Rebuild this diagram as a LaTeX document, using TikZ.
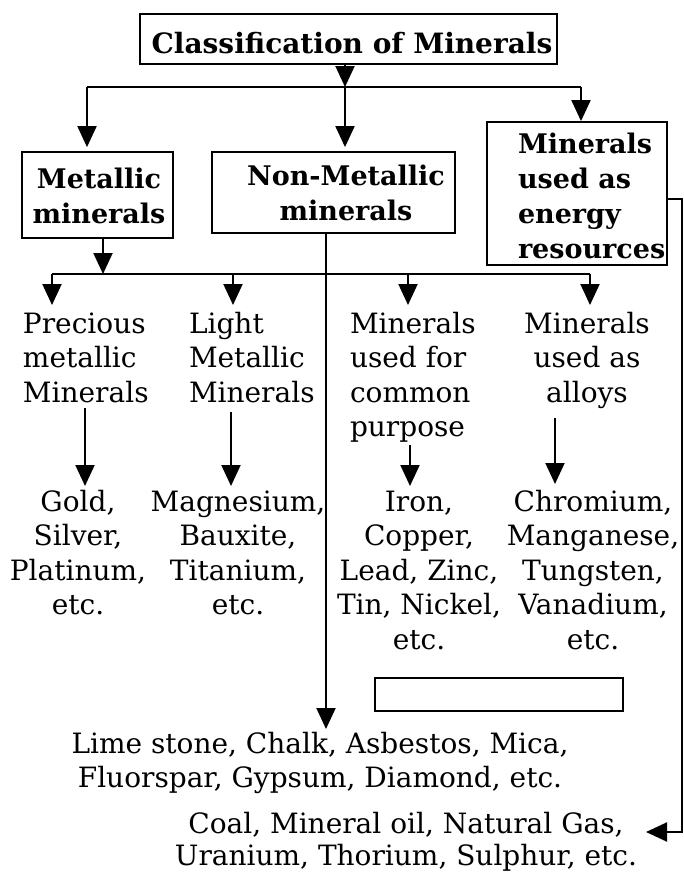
\documentclass[tikz,border=0pt]{standalone}
\usepackage{fontspec}
\setmainfont{DejaVu Serif}
\usetikzlibrary{arrows.meta,calc}
\newcommand{\mytab}[2][c]{\begin{tabular}[t]{@{}#1@{}}#2\end{tabular}}
\begin{document}
\begin{tikzpicture}[x=1pt,y=-1pt,line width=2pt,
  arr/.style={-{Triangle[length=21pt,width=19pt]}},
  boxst/.style={draw,line width=1.8pt,inner sep=0pt},
  bodyf/.style={font=\fontsize{28}{34.5}\selectfont,inner sep=0pt},
  boldf/.style={font=\bfseries\fontsize{27}{35}\selectfont,inner sep=0pt}]
\useasboundingbox (0,0) rectangle (684,873);
\fill[white] (0,0) rectangle (684,873);
% boxes
\node[boxst,minimum width=417pt,minimum height=50pt] (title) at (348.5,39) {};
\node[boldf,font=\bfseries\fontsize{28}{35}\selectfont,anchor=base] (titletxt) at (352,53) {Classification of Minerals};
\node[boxst,minimum width=151pt,minimum height=86pt] (met) at (97.5,195) {};
\node[boldf,anchor=base] (mettxt) at (99,188) {\mytab{Metallic\\minerals}};
\node[boxst,minimum width=243pt,minimum height=81pt] (nonmet) at (333.5,192.5) {};
\node[boldf,anchor=base] (nonmettxt) at (346,185) {\mytab{Non-Metallic\\minerals}};
\node[boxst,minimum width=180pt,minimum height=143pt] (energy) at (577,193.5) {};
\node[boldf,anchor=base west] (energytxt) at (517,153) {\mytab[l]{Minerals\\used as\\energy\\resources}};
% categories
\node[bodyf,anchor=base west] (cat1) at (22,333) {\mytab[l]{Precious\\metallic\\Minerals}};
\node[bodyf,anchor=base west] (cat2) at (188,333) {\mytab[l]{Light\\Metallic\\Minerals}};
\node[bodyf,anchor=base west] (cat3) at (349,333) {\mytab[l]{Minerals\\used for\\common\\purpose}};
\node[bodyf,anchor=base] (cat4) at (587,333) {\mytab{Minerals\\used as\\alloys}};
% examples
\node[bodyf,anchor=base] (ex1) at (78,511) {\mytab{Gold,\\Silver,\\Platinum,\\etc.}};
\node[bodyf,anchor=base] (ex2) at (238,511) {\mytab{Magnesium,\\Bauxite,\\Titanium,\\etc.}};
\node[bodyf,anchor=base] (ex3) at (419,511) {\mytab{Iron,\\Copper,\\Lead, Zinc,\\Tin, Nickel,\\etc.}};
\node[bodyf,anchor=base] (ex4) at (593,511) {\mytab{Chromium,\\Manganese,\\Tungsten,\\Vanadium,\\etc.}};
\node[bodyf,anchor=base] (lime) at (320,753) {\mytab{Lime stone, Chalk, Asbestos, Mica,\\Fluorspar, Gypsum, Diamond, etc.}};
\node[bodyf,font=\fontsize{28}{32}\selectfont,anchor=base] (coal) at (406,833) {\mytab{Coal, Mineral oil, Natural Gas,\\Uranium, Thorium, Sulphur, etc.}};
\node[boxst,line width=1.5pt,minimum width=248pt,minimum height=33pt] (blank) at (499,694.5) {};
% connectors
\coordinate (jl) at (87,87);
\coordinate (jr) at (581,87);
\coordinate (jm) at (345,87);
\draw (jl) -- (jr);
\draw[arr] (jm |- title.south) -- (jm);
\draw[arr] (jl) -- ($(jl |- met.north)+(0,-4)$);
\draw[arr] (jm) -- ($(jm |- nonmet.north)+(0,-4)$);
\draw[arr] (jr) -- (jr |- energy.north);
\coordinate (kl) at (52,274);
\coordinate (kr) at (590,274);
\coordinate (ms) at (103,274);
\draw (kl) -- (kr);
\draw[arr] (ms |- met.south) -- (ms);
\draw[arr] (kl) -- (52,305);
\draw[arr] (233,274) -- (233,305);
\draw[arr] (408,274) -- (408,305);
\draw[arr] (kr) -- (590,305);
\draw[arr] (85,408) -- (85,486);
\draw[arr] (231,412) -- (231,486);
\draw[arr] (410,445) -- (410,486);
\draw[arr] (555,418) -- (555,484);
\coordinate (nmtip) at (326,729);
\draw[arr] (nmtip |- nonmet.south) -- (nmtip);
\coordinate (rc) at (682,832);
\draw[arr] ($(energy.east)+(0,5.5)$) -| (rc) -- (646,832);
\end{tikzpicture}
\end{document}
